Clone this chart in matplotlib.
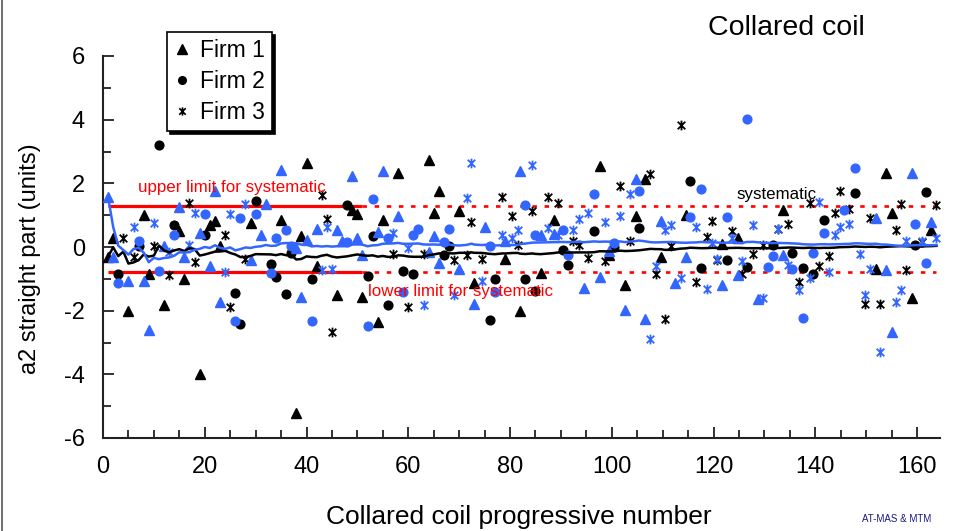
import numpy as np
import matplotlib
matplotlib.use('Agg')
import matplotlib.pyplot as plt
from matplotlib.lines import Line2D
from matplotlib.path import Path
from matplotlib.ticker import MultipleLocator

plt.rcParams['font.family'] = ['Liberation Sans', 'DejaVu Sans']
plt.rcParams['axes.unicode_minus'] = False

nan = np.nan

# ---------------- data ----------------
# Firm 1 (triangles): coil number, black value, blue value
firm1_x = [1, 2, 5, 8, 9, 12, 15, 16, 19, 21, 22, 23, 29, 31, 32, 35, 38, 39, 40, 42,
           46, 47, 49, 50, 51, 54, 55, 58, 64, 65, 66, 70, 73, 75, 79, 82, 86, 88.6,
           94.5, 97.6, 99.4, 102.6, 104.7, 106.5, 109.6, 112.5, 114.6, 121.7, 124.8,
           128.8, 133.7, 151.9, 153.9, 155.0, 158.9, 162.8]
firm1_black = [-0.30, 0.28, -2.02, 1.00, -0.84, -1.81, 0.49, -1.02, -3.98, 0.70, 0.81, 0.03,
               0.75, nan, nan, 0.86, -5.21, 0.34, 2.64, -0.61, -1.52, nan, 1.15, 1.03, -1.57,
               -2.36, 0.84, 2.32, 2.72, 1.07, 1.76, 1.13, -1.13, nan, -0.39, -2.02, -0.82, 0.84,
               nan, 2.54, -0.25, -1.18, 0.96, 2.15, -0.31, nan, 1.02, 0.08, 0.29, nan, 1.15,
               -0.68, 2.33, 1.07, -1.60, 0.54]
firm1_blue = [1.57, -0.31, -1.08, -1.08, -2.60, 0.03, 1.26, -0.31, 0.45, -0.60, 1.75, -1.73,
              -0.42, 0.37, 1.34, 2.43, -0.02, -1.57, 0.23, 0.58, 0.54, 0.19, 2.22, 0.28, -0.26,
              0.47, 2.38, 0.97, -0.16, 0.35, -0.50, -0.68, -1.78, 0.63, 0.18, 2.39, 0.37, 0.42,
              -1.29, -0.94, -0.14, -1.97, 2.15, -2.25, 0.82, -1.13, -0.31, -1.18, -0.87, -1.62,
              -0.26, 0.91, -0.71, -2.67, 2.33, 0.79]

# Firm 2 (circles)
firm2_x = [3, 7, 11, 14, 20, 26, 27, 30, 33, 34, 36, 37, 41, 48, 52, 53, 56, 59, 61, 62,
           67, 68, 76, 77, 83, 85, 90.4, 91.4, 96.5, 100.4, 105.3, 115.4, 117.5, 122.6,
           126.5, 130.6, 131.6, 135.5, 137.6, 139.6, 141.7, 145.7, 147.8, 159.6, 161.7]
firm2_black = [-0.84, 0.03, 3.19, 0.68, 0.39, -1.43, -2.41, 1.45, -0.52, -0.94, -1.49, -0.18,
               -0.99, 1.31, -0.91, 0.34, -1.83, -0.75, -0.86, nan, -0.26, 0.02, -2.30, -0.99,
               -1.02, -1.38, -0.10, -0.58, 0.49, 0.00, 0.60, 2.06, -0.66, -0.42, -0.63, nan,
               0.05, -0.19, -0.66, -0.86, 0.84, nan, 1.70, 0.05, 1.73]
firm2_blue = [-1.13, 0.18, -0.75, 0.37, 1.05, -2.33, 0.91, 1.05, -0.82, 0.29, 0.54, 0.03,
              -2.32, 0.16, -2.49, 1.52, 0.29, -1.40, 0.37, 0.55, 0.16, 0.55, 0.02, -1.41,
              1.33, 0.37, 0.54, -0.24, 1.68, 0.14, 1.76, 0.94, 1.83, 0.94, 4.01, -0.63,
              -0.29, -0.68, -2.23, -0.18, 0.44, 1.15, 2.48, 0.73, -0.49]

# Firm 3 (asterisks)
firm3_x = [4, 6, 10, 13, 17, 18, 24, 25, 28, 43, 44, 45, 57, 60, 63, 69, 71.5, 72.4, 74.5,
           78.5, 80.4, 81.5, 84.4, 87.5, 89.4, 92.3, 93.5, 95.3, 98.6, 101.6, 103.5, 107.6,
           108.6, 110.4, 111.7, 113.5, 116.6, 118.8, 119.6, 120.6, 123.7, 125.6, 127.8,
           129.7, 132.6, 134.7, 136.8, 138.9, 140.8, 142.7, 143.8, 144.8, 146.7, 148.8,
           149.8, 150.8, 152.7, 155.8, 156.8, 157.9, 161.0, 163.8]
firm3_black = [0.28, -0.31, 0.03, -0.89, 1.38, -0.47, 0.39, -1.88, -0.39, 1.64, 0.89, -2.67,
               -0.21, -1.88, -0.21, -0.40, -0.26, 0.79, -0.37, 1.57, 0.96, 0.05, 1.12, 1.57,
               1.38, 0.19, 0.05, -0.35, -0.44, 1.92, 0.19, 2.30, -0.84, -2.25, 0.03, 3.82,
               -1.10, 0.31, 0.82, -0.40, 0.49, -0.84, -0.21, 0.05, 0.55, 0.72, -1.10, 1.39,
               -0.61, -0.28, 1.08, 1.75, 1.18, nan, -1.80, 0.92, -1.78, 0.52, 1.34, -0.73,
               0.16, 1.31]
firm3_blue = [nan, 0.63, 0.75, -0.16, 0.05, 1.08, -0.79, 1.05, 1.34, -0.71, 0.63, -0.68,
              0.45, -0.03, -1.81, -1.52, 1.54, 2.64, -1.08, 0.39, 0.28, 0.54, 2.57, 0.60,
              0.37, 0.52, 0.89, 1.07, 0.79, 0.96, 1.68, -2.88, -0.60, 0.54, 0.68, -0.97,
              0.63, -1.33, 0.14, -0.37, 0.29, -0.45, 0.70, -1.60, 0.58, -0.58, -1.36, -0.97,
              1.41, -0.79, 0.39, 0.63, 0.73, -0.21, -1.52, -0.68, -3.30, -1.73, -1.36, 0.19,
              0.19, 0.28]

upper_limit = 1.3
lower_limit = -0.8
solid_limit_range = (1, 51)
dashed_limit_range = (51, 163.8)

BLUE = '#3366FF'
RED = '#FF0000'


def running_mean(xs, ys):
    x = np.asarray(xs, float)
    y = np.asarray(ys, float)
    order = np.argsort(x, kind='stable')
    x, y = x[order], y[order]
    ok = ~np.isnan(y)
    x, y = x[ok], y[ok]
    return x, np.cumsum(y) / np.arange(1, len(y) + 1)


all_x = firm1_x + firm2_x + firm3_x
black_avg_x, black_avg = running_mean(all_x, firm1_black + firm2_black + firm3_black)
blue_avg_x, blue_avg = running_mean(all_x, firm1_blue + firm2_blue + firm3_blue)

# ---------------- figure ----------------
W, H = 962, 531
fig = plt.figure(figsize=(W / 100, H / 100), dpi=100)
ax = fig.add_axes([103 / W, 1 - 438 / H, 837 / W, 382 / H])
ax.set_xlim(0, 164.5)
ax.set_ylim(-6, 6)

ast = Path([(0, -1), (0, 1), (-0.78, -0.78), (0.78, 0.78), (-0.78, 0.78), (0.78, -0.78)],
           [Path.MOVETO, Path.LINETO, Path.MOVETO, Path.LINETO, Path.MOVETO, Path.LINETO])

series = [
    (firm1_x, firm1_black, firm1_blue, dict(marker='^', markersize=7.5)),
    (firm2_x, firm2_black, firm2_blue, dict(marker='o', markersize=6.3)),
    (firm3_x, firm3_black, firm3_blue, dict(marker=ast, markersize=7, markeredgewidth=1.3)),
]
for xs, yb, yl, mk in series:
    ax.plot(xs, yb, linestyle='none', color='black', zorder=3, **mk)
for xs, yb, yl, mk in series:
    ax.plot(xs, yl, linestyle='none', color=BLUE, zorder=3, **mk)

# limits
ax.plot(solid_limit_range, [upper_limit] * 2, color=RED, lw=2.3, zorder=2, solid_capstyle='butt')
ax.plot(solid_limit_range, [lower_limit] * 2, color=RED, lw=2.3, zorder=2, solid_capstyle='butt')
ax.plot(dashed_limit_range, [upper_limit] * 2, color=RED, lw=1.9, dashes=(1.7, 2.9), zorder=2)
ax.plot(dashed_limit_range, [lower_limit] * 2, color=RED, lw=1.9, dashes=(1.7, 2.9), zorder=2)

# running averages
ax.plot(black_avg_x, black_avg, color='black', lw=1.8, zorder=4)
ax.plot(blue_avg_x, blue_avg, color=BLUE, lw=1.8, zorder=4)

ax.text(6.9, 1.88, 'upper limit for systematic', color=RED, fontsize=12.2, va='center', ha='left')
ax.text(52.1, -1.41, 'lower limit for systematic', color=RED, fontsize=12.2, va='center', ha='left')
ax.text(124.6, 1.66, 'systematic', color='black', fontsize=12.2, va='center', ha='left')

# axes styling
for s in ('top', 'right'):
    ax.spines[s].set_visible(False)
for s in ('left', 'bottom'):
    ax.spines[s].set_linewidth(1.5)
    ax.spines[s].set_color('#222222')
ax.xaxis.set_major_locator(MultipleLocator(20))
ax.xaxis.set_minor_locator(MultipleLocator(5))
ax.yaxis.set_major_locator(MultipleLocator(2))
ax.yaxis.set_minor_locator(MultipleLocator(1))
ax.tick_params(which='major', direction='in', length=8, width=1.3, labelsize=17, pad=13,
               colors='#222222', labelcolor='black')
ax.tick_params(which='minor', direction='in', length=6, width=1.3, colors='#222222')

fig.text(30 / W, 1 - 259 / H, 'a2 straight part (units)', rotation=90, fontsize=17,
         ha='center', va='center')
fig.text(519 / W, 1 - 517 / H, 'Collared coil progressive number', fontsize=19,
         ha='center', va='center')
fig.text(786 / W, 1 - 28 / H, 'Collared coil', fontsize=20.5, ha='center', va='center')
fig.text(897 / W, 1 - 519 / H, 'AT-MAS & MTM', fontsize=7, color='#1a1a80',
         ha='center', va='center')

# legend
handles = [Line2D([], [], color='black', linestyle='none', marker='^', markersize=6.5),
           Line2D([], [], color='black', linestyle='none', marker='o', markersize=5.5),
           Line2D([], [], color='black', linestyle='none', marker=ast, markersize=6,
                  markeredgewidth=1.2)]
leg = ax.legend(handles, ['Firm 1', 'Firm 2', 'Firm 3'], loc='upper left',
                bbox_to_anchor=((167 - 103) / 837, (438 - 32) / 382), borderaxespad=0,
                fontsize=16.5, frameon=True, fancybox=False, edgecolor='black',
                framealpha=1, handlelength=0.7, handletextpad=0.45, labelspacing=0.35,
                borderpad=0.3, shadow={'color': 'black', 'alpha': 1})
leg.get_frame().set_linewidth(1.2)

# outer frame line on the left
fig.add_artist(Line2D([2 / W, 2 / W], [0, 1], color='#555555', lw=1.2))

fig.savefig('out.png', dpi=100)
